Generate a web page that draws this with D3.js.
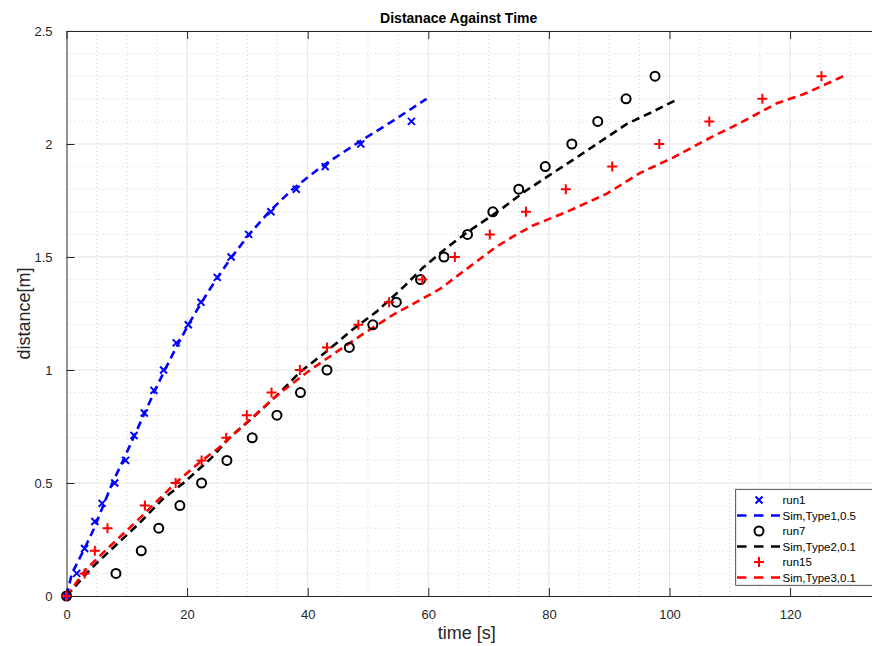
<!DOCTYPE html>
<html>
<head>
<meta charset="utf-8">
<script src="https://cdn.jsdelivr.net/npm/d3@7"></script>
<style>
  body { margin: 0; background: #fff; }
  svg { font-family: "Liberation Sans", Arial, Helvetica, sans-serif; display: block; }
</style>
</head>
<body>
<svg id="chart" width="872" height="646"></svg>
<script>
// measured runs
const run1_t = [0, 1.7, 3.0, 4.7, 5.9, 8.0, 9.8, 11.2, 12.9, 14.5, 16.1, 18.2, 20.2, 22.3, 25.0, 27.3, 30.2, 33.9, 38.1, 42.9, 48.8, 57.2];
const run1_d = [0, 0.1, 0.21, 0.33, 0.41, 0.5, 0.6, 0.71, 0.81, 0.91, 1.0, 1.12, 1.2, 1.3, 1.41, 1.5, 1.6, 1.7, 1.8, 1.9, 2.0, 2.1];

const run7_t = [0, 8.2, 12.4, 15.3, 18.8, 22.4, 26.6, 30.8, 34.9, 38.8, 43.2, 46.9, 50.8, 54.7, 58.7, 62.6, 66.5, 70.7, 75.0, 79.4, 83.8, 88.1, 92.8, 97.6];
const run7_d = [0, 0.1, 0.2, 0.3, 0.4, 0.5, 0.6, 0.7, 0.8, 0.9, 1.0, 1.1, 1.2, 1.3, 1.4, 1.5, 1.6, 1.7, 1.8, 1.9, 2.0, 2.1, 2.2, 2.3];

const run15_t = [0, 3.0, 4.7, 6.8, 13.0, 18.1, 22.4, 26.5, 29.9, 34.0, 38.7, 43.2, 48.4, 53.5, 59.0, 64.4, 70.2, 76.2, 82.8, 90.5, 98.3, 106.6, 115.4, 125.2];
const run15_d = [0, 0.1, 0.2, 0.3, 0.4, 0.5, 0.6, 0.7, 0.8, 0.9, 1.0, 1.1, 1.2, 1.3, 1.4, 1.5, 1.6, 1.7, 1.8, 1.9, 2.0, 2.1, 2.2, 2.3];

// simulations
const sim1_t = [0, 0.9, 2.8, 4.6, 6.1, 7.6, 9.4, 11.1, 12.8, 14.5, 16.3, 18.2, 20.2, 22.4, 24.8, 27.4, 30.3, 33.6, 37.5, 42.3, 48.0, 54.0, 59.7];
const sim1_d = [0, 0.1, 0.2, 0.3, 0.4, 0.5, 0.6, 0.7, 0.8, 0.9, 1.0, 1.1, 1.2, 1.3, 1.4, 1.5, 1.6, 1.7, 1.8, 1.9, 2.0, 2.1, 2.2];

const sim2_t = [0, 4, 8, 12, 16, 19.4, 24, 27, 30.5, 35, 38.7, 43, 47.5, 51.5, 56, 59, 63, 66.5, 72, 76, 80, 84, 88.5, 93, 97, 101.5];
const sim2_d = [0, 0.12, 0.22, 0.32, 0.43, 0.5, 0.61, 0.7, 0.78, 0.89, 0.99, 1.08, 1.18, 1.26, 1.37, 1.45, 1.54, 1.61, 1.71, 1.79, 1.86, 1.93, 2.01, 2.09, 2.14, 2.2];

const sim3_t = [0, 3.3, 7.2, 11.6, 15, 18.5, 22, 25, 30.4, 35, 40.4, 44.8, 49.2, 54.5, 58, 62, 68, 71, 74, 77.4, 83, 89.6, 95, 100.6, 106.2, 112.2, 117.8, 122.2, 127.2, 128.8];
const sim3_d = [0, 0.12, 0.22, 0.33, 0.42, 0.51, 0.59, 0.65, 0.78, 0.89, 1.0, 1.08, 1.16, 1.25, 1.3, 1.36, 1.48, 1.54, 1.59, 1.64, 1.70, 1.78, 1.87, 1.94, 2.02, 2.10, 2.18, 2.22, 2.28, 2.3];

const xTicks = [0, 20, 40, 60, 80, 100, 120];
const yTicks = [0, 0.5, 1, 1.5, 2, 2.5];
const legendLabels = ["run1", "Sim,Type1,0.5", "run7", "Sim,Type2,0.1", "run15", "Sim,Type3,0.1"];

const svg = d3.select("#chart");
const pLeft = 66.5, pTop = 31, pBottom = 596, pRight = 910.7;
const x = d3.scaleLinear().domain([0, 140]).range([pLeft, pRight]);
const y = d3.scaleLinear().domain([0, 2.5]).range([pBottom, pTop]);
const axisCol = "#262626";

// minor grid
const grid = svg.append("g");
grid.selectAll(".mx").data(d3.range(0, 141, 5).filter(v => v % 20 !== 0)).enter().append("line")
  .attr("x1", d => x(d)).attr("x2", d => x(d)).attr("y1", pTop).attr("y2", pBottom)
  .attr("stroke", "#c8c8c8").attr("stroke-width", 0.8).attr("stroke-dasharray", "1,3");
grid.selectAll(".my").data(d3.range(1, 25).filter(v => v % 5 !== 0).map(v => v / 10)).enter().append("line")
  .attr("y1", d => y(d)).attr("y2", d => y(d)).attr("x1", pLeft).attr("x2", pRight)
  .attr("stroke", "#c8c8c8").attr("stroke-width", 0.8).attr("stroke-dasharray", "1,3");
// major grid
grid.selectAll(".Mx").data(xTicks.slice(1)).enter().append("line")
  .attr("x1", d => x(d)).attr("x2", d => x(d)).attr("y1", pTop).attr("y2", pBottom)
  .attr("stroke", "#e3e3e3").attr("stroke-width", 1);
grid.selectAll(".My").data(yTicks.slice(1)).enter().append("line")
  .attr("y1", d => y(d)).attr("y2", d => y(d)).attr("x1", pLeft).attr("x2", pRight)
  .attr("stroke", "#e3e3e3").attr("stroke-width", 1);

// axes with inward ticks
const xAxis = svg.append("g").attr("transform", `translate(0,${pBottom})`)
  .call(d3.axisBottom(x).tickValues(xTicks).tickSizeInner(-8).tickSizeOuter(0).tickPadding(14).tickFormat(d3.format("d")));
const xAxisTop = svg.append("g").attr("transform", `translate(0,${pTop})`)
  .call(d3.axisTop(x).tickValues(xTicks).tickSizeInner(-8).tickSizeOuter(0).tickFormat(""));
const yAxis = svg.append("g").attr("transform", `translate(${pLeft},0)`)
  .call(d3.axisLeft(y).tickValues(yTicks).tickSizeInner(-8).tickSizeOuter(0).tickPadding(14).tickFormat(d => d3.format("")(d)));
[xAxis, xAxisTop, yAxis].forEach(g => {
  g.selectAll("path").attr("stroke", axisCol).attr("stroke-width", 1);
  g.selectAll("line").attr("stroke", axisCol).attr("stroke-width", 1);
  g.selectAll("text").attr("fill", axisCol).style("font-size", "13px");
});

// sim lines
const line = d3.line().x(d => x(d[0])).y(d => y(d[1]));
const sims = [[sim1_t, sim1_d, "#0000ff"], [sim2_t, sim2_d, "#000000"], [sim3_t, sim3_d, "#ff0000"]];
sims.forEach(s => {
  svg.append("path").datum(d3.zip(s[0], s[1])).attr("d", line)
    .attr("fill", "none").attr("stroke", s[2]).attr("stroke-width", 2.6)
    .attr("stroke-dasharray", "8,5");
});

// markers
function drawMarker(g, type, col) {
  if (type === "x") {
    g.append("path").attr("d", "M-3.5,-3.5L3.5,3.5M-3.5,3.5L3.5,-3.5").attr("stroke", col).attr("stroke-width", 2);
  } else if (type === "o") {
    g.append("circle").attr("r", 4.5).attr("fill", "none").attr("stroke", col).attr("stroke-width", 2);
  } else {
    g.append("path").attr("d", "M-5,0L5,0M0,-5L0,5").attr("stroke", col).attr("stroke-width", 2);
  }
}
const runs = [[run1_t, run1_d, "x", "#0000ff"], [run7_t, run7_d, "o", "#000000"], [run15_t, run15_d, "+", "#ff0000"]];
runs.forEach(r => {
  svg.append("g").selectAll("g").data(d3.zip(r[0], r[1])).enter().append("g")
    .attr("transform", d => `translate(${x(d[0])},${y(d[1])})`)
    .each(function () { drawMarker(d3.select(this), r[2], r[3]); });
});

// title and labels
svg.append("text").attr("x", 458.7).attr("y", 23).attr("text-anchor", "middle")
  .style("font-size", "14px").style("font-weight", "bold").attr("fill", "#000").text("Distanace Against Time");
svg.append("text").attr("x", 466.7).attr("y", 639).attr("text-anchor", "middle")
  .style("font-size", "18px").attr("fill", axisCol).text("time [s]");
svg.append("text").attr("transform", `translate(30,${(pTop + pBottom) / 2}) rotate(-90)`).attr("text-anchor", "middle")
  .style("font-size", "18px").attr("fill", axisCol).text("distance[m]");

// legend
const lg = svg.append("g");
lg.append("rect").attr("x", 735.7).attr("y", 489.3).attr("width", 150).attr("height", 96)
  .attr("fill", "#fff").attr("stroke", axisCol).attr("stroke-width", 0.8);
const legendCols = ["#0000ff", "#0000ff", "#000000", "#000000", "#ff0000", "#ff0000"];
const legendMarks = ["x", null, "o", null, "+", null];
legendLabels.forEach((lab, i) => {
  const yy = 500 + i * 15.5;
  if (legendMarks[i]) {
    drawMarker(lg.append("g").attr("transform", `translate(759,${yy})`), legendMarks[i], legendCols[i]);
  } else {
    lg.append("line").attr("x1", 737).attr("x2", 780).attr("y1", yy).attr("y2", yy)
      .attr("stroke", legendCols[i]).attr("stroke-width", 2.6).attr("stroke-dasharray", "9.5,7.5");
  }
  lg.append("text").attr("x", 782.5).attr("y", yy + 4).style("font-size", "11.5px").attr("fill", "#000").text(lab);
});
</script>
</body>
</html>
